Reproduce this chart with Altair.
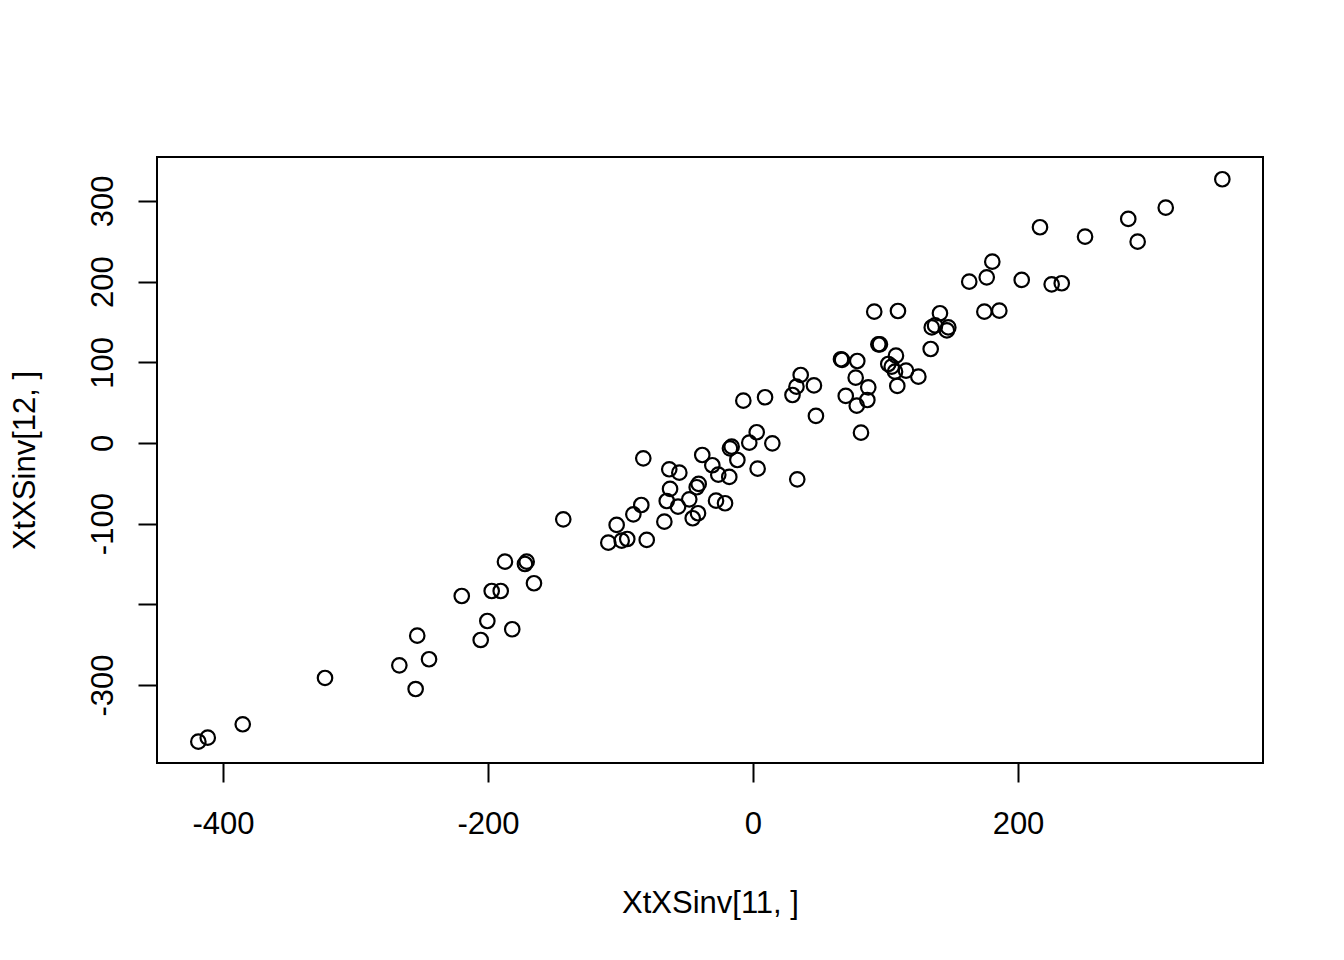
import altair as alt
import pandas as pd

# XtXSinv[11, ] values (x) and XtXSinv[12, ] values (y)
x_vals = [354.2, 311.5, 283.2, 290.3, 250.6, 216.6, 180.6, 176.4, 163.2, 202.8,
          225.4, 233.0, 174.6, 185.9, 109.4, 91.5, 141.1, 134.9, 137.4, 147.4,
          146.3, 134.1, 95.8, 94.6, 66.4, 67.2, 78.7, 107.9, 102.1, 104.7,
          107.2, 115.5, 124.8, 77.5, 36.0, 32.8, 46.0, 29.8, 87.0, 108.9,
          70.0, 86.3, 78.3, -7.3, 9.1, 47.5, 81.5, 2.8, -2.8, 14.6,
          -16.1, -17.4, -82.8, -38.3, -11.8, -63.2, -55.6, -30.7, -26.2, 3.5,
          -17.9, 33.4, -62.6, -41.0, -42.5, -48.1, -65.1, -27.9, -21.1, -84.3,
          -41.5, -45.5, -56.6, -90.3, -66.9, -143.2, -102.9, -94.9, -99.1, -109.2,
          -80.2, -187.2, -170.8, -172.1, -165.3, -219.8, -197.2, -190.4, -200.5, -253.4,
          -205.5, -181.7, -244.5, -266.9, -323.0, -254.6, -385.1, -411.5, -418.6]
y_vals = [326.9, 291.7, 277.7, 249.5, 255.7, 267.4, 224.7, 205.4, 200.0, 202.1,
          196.7, 198.0, 162.8, 164.0, 163.6, 162.8, 160.8, 143.2, 145.7, 143.2,
          139.5, 116.5, 122.3, 122.3, 103.8, 102.9, 101.6, 108.2, 97.9, 94.6,
          88.4, 89.6, 82.2, 80.9, 84.3, 69.8, 71.3, 59.5, 69.0, 70.7,
          58.3, 53.3, 46.2, 52.4, 56.7, 33.5, 12.8, 13.3, 0.4, -0.4,
          -4.6, -6.6, -19.0, -14.9, -21.1, -32.6, -36.8, -27.6, -39.3, -31.9,
          -42.1, -45.0, -57.0, -50.8, -54.9, -69.8, -71.9, -71.5, -74.7, -76.9,
          -87.1, -93.3, -79.0, -88.4, -97.6, -94.6, -101.6, -119.0, -121.1, -123.6,
          -120.2, -147.1, -147.1, -150.0, -173.9, -189.7, -183.5, -183.5, -220.7, -238.9,
          -244.2, -230.9, -268.1, -275.6, -291.3, -305.0, -348.7, -365.3, -370.3]

x_ticks = [-400, -200, 0, 200]
y_ticks = [-300, -200, -100, 0, 100, 200, 300]
x_title = "XtXSinv[11, ]"
y_title = "XtXSinv[12, ]"

df = pd.DataFrame({"x": x_vals, "y": y_vals})

FONT = "Liberation Sans"
FS = 31
PW, PH = 1106, 606

chart = alt.Chart(df).mark_point(
    shape="circle", filled=False, size=210, strokeWidth=2.2,
    color="black", opacity=1
).encode(
    x=alt.X("x:Q", scale=alt.Scale(domain=[-449.8, 384.9], nice=False, zero=False),
            axis=alt.Axis(values=x_ticks, title=x_title, grid=False, domain=False,
                          tickSize=19, tickWidth=2, tickColor="black",
                          labelFont=FONT, labelFontSize=FS, labelColor="black",
                          labelBaseline="top", labelPadding=27,
                          labelExpr="'' + datum.value",
                          titleFont=FONT, titleFontSize=FS, titleFontWeight="normal",
                          titleColor="black", titleBaseline="alphabetic",
                          titleAlign="center", titleX=PW / 2, titleY=149)),
    y=alt.Y("y:Q", scale=alt.Scale(domain=[-396.7, 354.5], nice=False, zero=False),
            axis=alt.Axis(values=y_ticks, title=y_title, grid=False, domain=False,
                          tickSize=19, tickWidth=2, tickColor="black",
                          labelFont=FONT, labelFontSize=FS, labelColor="black",
                          labelAngle=270, labelAlign="center", labelBaseline="alphabetic",
                          labelPadding=26,
                          labelExpr="datum.value == -200 ? '' : '' + datum.value",
                          titleFont=FONT, titleFontSize=FS, titleFontWeight="normal",
                          titleColor="black", titleBaseline="alphabetic",
                          titleAlign="center", titleAngle=270,
                          titleX=-123, titleY=PH / 2)),
).properties(
    width=PW, height=PH,
    autosize=alt.AutoSizeParams(type="none"),
    padding={"left": 149, "top": 149, "right": 73, "bottom": 189},
).configure(
    background="white",
    view=alt.ViewConfig(stroke="black", strokeWidth=2, fill="white"),
)

chart.save("out.html", embed_options={"renderer": "svg", "actions": False})
